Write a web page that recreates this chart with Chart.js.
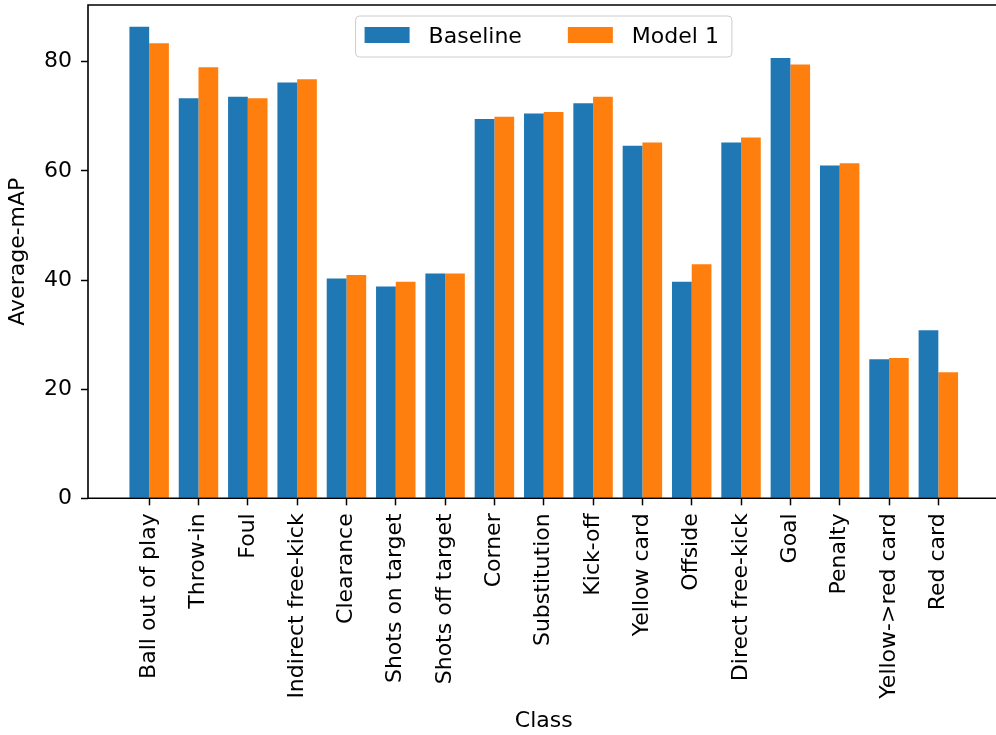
<!DOCTYPE html>
<html>
<head>
<meta charset="utf-8">
<script src="https://cdn.jsdelivr.net/npm/chart.js@4.4.0/dist/chart.umd.min.js"></script>
<style>
  html, body { margin: 0; padding: 0; background: #fff; overflow: hidden; }
  #wrap { position: relative; width: 1004px; height: 735px; }
</style>
</head>
<body>
<div id="wrap"><canvas id="chart"></canvas></div>
<script>
// categories on the x axis
const classes = ['Ball out of play', 'Throw-in', 'Foul', 'Indirect free-kick', 'Clearance',
    'Shots on target', 'Shots off target', 'Corner', 'Substitution', 'Kick-off', 'Yellow card',
    'Offside', 'Direct free-kick', 'Goal', 'Penalty', 'Yellow->red card', 'Red card'];

// average-mAP per class
const baseline = [86.4, 73.3, 73.6, 76.2, 40.3, 38.8, 41.2, 69.5, 70.5, 72.4, 64.6, 39.7, 65.2, 80.7, 61.0, 25.5, 30.8];
const model1   = [83.4, 79.0, 73.3, 76.8, 40.9, 39.7, 41.2, 69.9, 70.8, 73.6, 65.2, 42.9, 66.1, 79.5, 61.4, 25.7, 23.1];

const yTicks = [0, 20, 40, 60, 80];
const seriesNames = ['Baseline', 'Model 1'];
const seriesColors = ['#1f77b4', '#ff7f0e'];

const FONT = '"DejaVu Sans", sans-serif';
const FS = 22;

// legend drawn inside the plot, like matplotlib's "upper center"
const legendBox = {
    id: 'legendBox',
    afterDatasetsDraw(chart) {
        const ctx = chart.ctx, area = chart.chartArea;
        ctx.save();
        ctx.font = FS + 'px ' + FONT;
        const padL = 9, padR = 13, patchW = 45, patchH = 16, gap = 19, colGap = 46, h = 41;
        const widths = chart.data.datasets.map(d => ctx.measureText(d.label).width);
        let total = padL + padR;
        widths.forEach((w, i) => { total += patchW + gap + w + (i ? colGap : 0); });
        const top = area.top + 11;
        const left = (area.left + area.right) / 2 - total / 2;
        ctx.beginPath();
        ctx.roundRect(left, top, total, h, 4);
        ctx.fillStyle = 'rgba(255,255,255,0.8)';
        ctx.fill();
        ctx.strokeStyle = '#cccccc';
        ctx.lineWidth = 1;
        ctx.stroke();
        let x = left + padL;
        chart.data.datasets.forEach((d, i) => {
            ctx.fillStyle = d.backgroundColor;
            ctx.fillRect(x, top + 11, patchW, patchH);
            x += patchW + gap;
            ctx.fillStyle = '#000';
            ctx.textBaseline = 'middle';
            ctx.fillText(d.label, x, top + h / 2 + 1);
            x += widths[i] + colGap;
        });
        ctx.restore();
    }
};

// spines: top, left, bottom (right one falls outside the picture)
const frame = {
    id: 'frame',
    afterDatasetsDraw(chart) {
        const ctx = chart.ctx, a = chart.chartArea;
        ctx.save();
        ctx.strokeStyle = '#000';
        ctx.lineWidth = 1.6;
        ctx.beginPath();
        ctx.moveTo(chart.width, a.top);
        ctx.lineTo(a.left, a.top);
        ctx.lineTo(a.left, a.bottom);
        ctx.lineTo(chart.width, a.bottom);
        ctx.stroke();
        ctx.restore();
    }
};

const n = classes.length;
const span = (n - 1) + 0.8;

new Chart(document.getElementById('chart'), {
    type: 'bar',
    data: {
        datasets: [
            { label: seriesNames[0], data: baseline.map((v, i) => ({ x: i, y: v })), backgroundColor: seriesColors[0] },
            { label: seriesNames[1], data: model1.map((v, i) => ({ x: i, y: v })), backgroundColor: seriesColors[1] }
        ]
    },
    options: {
        responsive: true,
        maintainAspectRatio: false,
        animation: false,
        devicePixelRatio: 1,
        layout: { padding: { top: 5, right: 4.5, left: 0, bottom: 0 } },
        datasets: { bar: { categoryPercentage: 0.8, barPercentage: 1.0, borderWidth: 0 } },
        plugins: { legend: { display: false }, tooltip: { enabled: false } },
        scales: {
            x: {
                type: 'linear',
                offset: false,
                min: -0.4 - 0.05 * span,
                max: (n - 1) + 0.4 + 0.05 * span,
                afterBuildTicks: s => { s.ticks = classes.map((c, i) => ({ value: i })); },
                afterFit: s => { s.height = 735 - 498.3; s.paddingLeft = 0; s.paddingRight = 0; },
                grid: { display: true, offset: false, drawOnChartArea: false, drawTicks: true, tickLength: 7, tickColor: '#000', tickWidth: 1.5 },
                border: { display: false },
                ticks: {
                    autoSkip: false, minRotation: 90, maxRotation: 90, padding: 8,
                    color: '#000', font: { family: FONT, size: FS },
                    callback: (v) => classes[v]
                },
                title: { display: true, text: 'Class', color: '#000', font: { family: FONT, size: FS }, padding: { top: 0, bottom: 1 } }
            },
            y: {
                min: 0,
                max: 90.4,
                afterBuildTicks: s => { s.ticks = yTicks.map(v => ({ value: v })); },
                afterFit: s => { s.width = 88; s.paddingTop = 0; s.paddingBottom = 0; },
                grid: { display: true, drawOnChartArea: false, drawTicks: true, tickLength: 7, tickColor: '#000', tickWidth: 1.5 },
                border: { display: false },
                ticks: { padding: 9, color: '#000', font: { family: FONT, size: FS } },
                title: { display: true, text: 'Average-mAP', color: '#000', font: { family: FONT, size: FS }, padding: { top: 5, bottom: 0 } }
            }
        }
    },
    plugins: [frame, legendBox]
});
</script>
</body>
</html>
